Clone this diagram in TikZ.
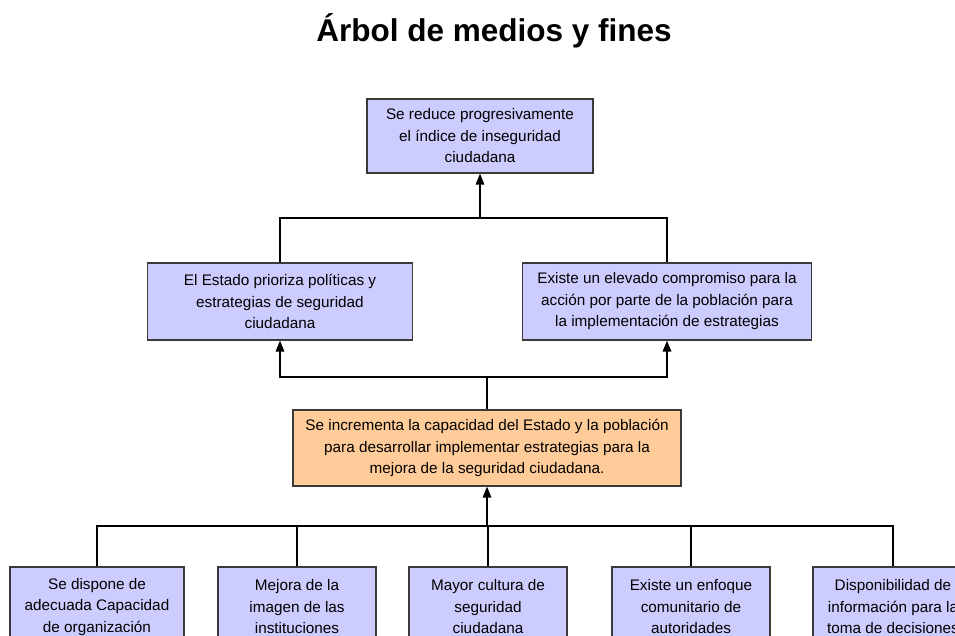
\documentclass[tikz,border=0pt]{standalone}
\usepackage{fontspec}
\setmainfont{Liberation Sans}
\usetikzlibrary{arrows.meta}
\definecolor{lav}{HTML}{CCCCFF}
\definecolor{orng}{HTML}{FFCC99}
\definecolor{bord}{HTML}{3A3A3A}
\begin{document}
\begin{tikzpicture}[x=1pt,y=-1pt,
  boxst/.style={draw=bord,line width=1.1pt,fill=lav,align=center,inner sep=0pt,
    font=\fontsize{15.3}{21.5}\selectfont},
  lnk/.style={line width=1.2pt,draw=black},
  arr/.style={line width=1.6pt,draw=black,-{Triangle[length=11pt,width=8.5pt]}}]
\useasboundingbox (0,0) rectangle (955,636);
\clip (0,0) rectangle (955,636);
\node[font=\bfseries\fontsize{31.5}{36}\selectfont] (title) at (494,31) {Árbol de medios y fines};
\node[boxst,minimum width=226pt,minimum height=74pt] (top) at (480,136) {Se reduce progresivamente\\el índice de inseguridad\\ciudadana};
\node[boxst,minimum width=265pt,minimum height=77pt] (m1) at (280,301.5) {El Estado prioriza políticas y\\estrategias de seguridad\\ciudadana};
\node[boxst,minimum width=289pt,minimum height=77pt] (m2) at (667,301.5) {Existe un elevado compromiso para la\\acción por parte de la población para\\la implementación de estrategias};
\node[boxst,fill=orng,minimum width=388pt,minimum height=76pt] (mid) at (487,448) {Se incrementa la capacidad del Estado y la población\\para desarrollar implementar estrategias para la\\mejora de la seguridad ciudadana.};
\node[boxst,minimum width=174pt,minimum height=80pt] (b1) at (97,607) {Se dispone de\\adecuada Capacidad\\de organización};
\node[boxst,minimum width=158pt,minimum height=80pt] (b2) at (297,607) {Mejora de la\\imagen de las\\instituciones};
\node[boxst,minimum width=158pt,minimum height=80pt] (b3) at (488,607) {Mayor cultura de\\seguridad\\ciudadana};
\node[boxst,minimum width=158pt,minimum height=80pt] (b4) at (691,607) {Existe un enfoque\\comunitario de\\autoridades};
\node[boxst,minimum width=160pt,minimum height=80pt] (b5) at (893,607) {Disponibilidad de\\información para la\\toma de decisiones};
\coordinate (j1) at (480,218);
\coordinate (j2) at (487,377);
\coordinate (j3) at (487,526);
\draw[lnk] (m1.north) |- (j1) -| (m2.north);
\draw[arr] (j1) -- (top.south);
\draw[arr] (j2) -| (m1.south);
\draw[arr] (j2) -| (m2.south);
\draw[lnk,line width=1.6pt] (j2) -- (mid.north);
\draw[arr] (j3) -- (mid.south);
\draw[lnk] (b1.north) |- (j3);
\draw[lnk] (b2.north) |- (j3);
\draw[lnk] (b3.north) |- (j3);
\draw[lnk] (b4.north) |- (j3);
\draw[lnk] (b5.north) |- (j3);
\end{tikzpicture}
\end{document}
